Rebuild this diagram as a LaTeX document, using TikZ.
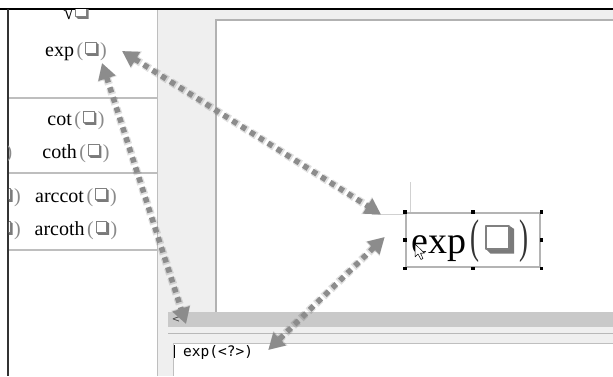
\documentclass[tikz,border=0pt]{standalone}
\usepackage{fontspec}
\usepackage{graphicx}
\setmainfont{Liberation Serif}
\setmonofont{DejaVu Sans Mono}
\setsansfont{DejaVu Sans}
\usetikzlibrary{arrows.meta}

\definecolor{panelgrey}{HTML}{EFEFEF}
\definecolor{linegrey}{HTML}{BEBEBE}
\definecolor{bargrey}{HTML}{C9C9C9}
\definecolor{arrowgrey}{HTML}{8C8C8C}
\definecolor{parengrey}{HTML}{8A8A8A}
\definecolor{boxshade}{HTML}{7A7A7A}
\definecolor{selgrey}{HTML}{B4B4B4}

% shadowed placeholder box
\newcommand{\phbox}[1]{\tikz[baseline={(0,0)},x=#1,y=#1,line width=0.07*#1]{%
  \fill[boxshade] (0.82,0.98) -- (1,0.86) -- (1,-0.02) -- (0.16,-0.02) -- (0,0.14) -- (0.82,0.14) -- cycle;
  \draw[draw=gray,fill=white,line join=round] (0,0.14) rectangle (0.82,0.98);}}
\newcommand{\fnitem}[1]{#1\hspace{2.5pt}{\color{parengrey}(}\hspace{2pt}\raisebox{0.5pt}{\phbox{13pt}}\hspace{1.5pt}{\color{parengrey})}}
\newcommand{\bigparen}[1]{\raisebox{1pt}{\fontsize{27}{27}\selectfont\scalebox{1}[1.75]{\color{black!80}#1}}}

\tikzset{
  lfn/.style={font=\fontsize{20}{20}\selectfont, inner sep=0pt, anchor=base},
  arr/.style={draw=arrowgrey, line width=5.5pt, dash pattern=on 5.5pt off 5pt,
    {Triangle[length=16pt,width=17pt]}-{Triangle[length=16pt,width=17pt]}},
  arrshadow/.style={draw=black, opacity=0.12, line width=8pt, dash pattern=on 6.5pt off 4pt,
    {Triangle[length=17pt,width=19pt]}-{Triangle[length=17pt,width=19pt]}},
  guide/.style={draw=black!18, line width=0.9pt},
  handle/.style={fill=black, minimum size=3.6pt, inner sep=0pt, draw=none}
}

\begin{document}
\begin{tikzpicture}[x=1pt,y=-1pt]
\useasboundingbox (0,0) rectangle (613,376);
\fill[white] (0,0) rectangle (613,376);

% grey application area
\fill[panelgrey] (157,9) rectangle (613,376);
% left panel
\fill[white] (8,9) rectangle (157,376);
\draw[linegrey, line width=1.5pt] (157.5,9) -- (157.5,376);
\foreach \yy in {98,173,250}
  \draw[linegrey, line width=1.2pt] (8,\yy) -- (157,\yy);

% canvas
\fill[white] (216,20) rectangle (613,312);
\draw[black!30, line width=1.5pt] (613,20) -- (216,20) -- (216,312);

% scrollbar and lower pane
\fill[bargrey] (168,312) rectangle (613,327);
\node[font=\sffamily\fontsize{10}{10}\selectfont, text=black!75, inner sep=0pt] (lt) at (176,320) {<};
\draw[black!28, line width=1pt] (168,333) -- (613,333);
\fill[white] (173,343) rectangle (613,376);
\draw[black!25, line width=1pt] (613,343) -- (173,343) -- (173,376);
\draw[black, line width=1pt] (174.5,345) -- (174.5,358);
\node[font=\ttfamily\fontsize{14.5}{15}\selectfont, inner sep=0pt, anchor=base west] (code) at (183,356) {exp(<?>)};

% frame lines
\draw[black, line width=1.6pt] (0,9) -- (613,9);
\draw[black!80, line width=1.4pt] (8,9) -- (8,376);

% left panel texts
\begin{scope}
\clip (8.8,9.8) rectangle (157,376);
\node[lfn] (lsqrt) at (76,19) {√\hspace{1pt}\raisebox{0.5pt}{\phbox{13pt}}};
\node[lfn] (lexp) at (76,56) {\fnitem{exp}};
\node[lfn] (lcot) at (76,125) {\fnitem{cot}};
\node[lfn] (lcoth) at (76,158) {\fnitem{coth}};
\node[lfn] (lacot) at (76,202) {\fnitem{arccot}};
\node[lfn] (lacoth) at (76,235) {\fnitem{arcoth}};
\node[lfn, anchor=base east] (pc1) at (12.5,158) {{\color{parengrey})}};
\node[lfn, anchor=base east] (pc2) at (21,202) {\raisebox{0.5pt}{\phbox{13pt}}\hspace{1.5pt}{\color{parengrey})}};
\node[lfn, anchor=base east] (pc3) at (21,235) {\raisebox{0.5pt}{\phbox{13pt}}\hspace{1.5pt}{\color{parengrey})}};
\end{scope}

% guide lines at the formula
\draw[guide] (410,182) -- (410,213);
\coordinate (gl) at (372,214.5);
\coordinate (gr) at (406,214.5);
\draw[guide] (gl) -- (gr);

% big formula with selection frame
\node[draw=selgrey, line width=2.6pt, minimum width=134pt, minimum height=54pt, inner sep=0pt] (sel) at (473,240) {};
\node[font=\fontsize{38}{38}\selectfont, inner sep=0pt, anchor=base west] (bigf) at (411,253)
  {exp\hspace{4pt}\bigparen{(}\hspace{6pt}\phbox{28pt}\hspace{5pt}\bigparen{)}};
\foreach \a in {north west,north,north east,west,east,south west,south,south east}
  \node[handle] at (sel.\a) {};

% mouse pointer
\draw[black, fill=white, line width=0.5pt, line join=round]
  (415,244) -- (415,257) -- (418,254) -- (421,259.5) -- (423,258.5) -- (420.5,253.2) -- (424.5,253.2) -- cycle;

% connector end points
\coordinate (e1) at ([shift={(15,-5)}]lexp.base east);
\coordinate (e2) at ([shift={(-5,7)}]lexp.base east);
\coordinate (f1) at ([shift={(9,0)}]gl);
\coordinate (f2) at ([shift={(-20,-3)}]sel.west);
\coordinate (s1) at ([shift={(10,4)}]lt.center);
\coordinate (c1) at ([shift={(15,-2)}]code.east);

% shadows
\begin{scope}[shift={(1.5,2)}]
\draw[arrshadow] (e1) -- (f1);
\draw[arrshadow] (e2) -- (s1);
\draw[arrshadow] (f2) -- (c1);
\end{scope}
% connectors
\draw[arr] (e1) -- (f1);
\draw[arr] (e2) -- (s1);
\draw[arr] (f2) -- (c1);
\end{tikzpicture}
\end{document}
